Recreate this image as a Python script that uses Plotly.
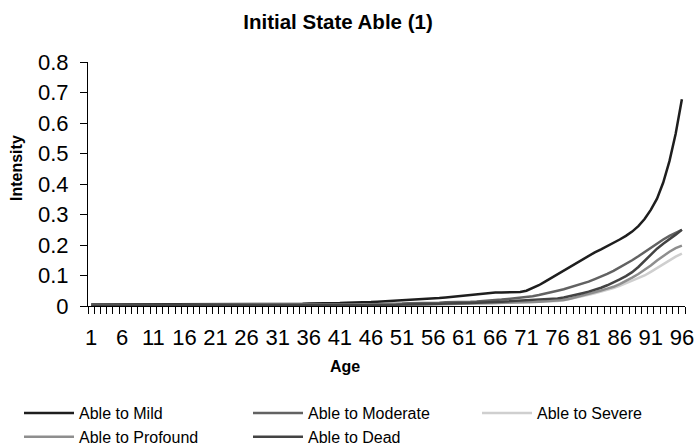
import plotly.graph_objects as go

ages = list(range(1, 97))

able_to_mild = [
    0.005, 0.005, 0.005, 0.005, 0.005, 0.005, 0.005, 0.005, 0.005, 0.005,
    0.005, 0.005, 0.005, 0.005, 0.005, 0.006, 0.006, 0.006, 0.006, 0.006,
    0.006, 0.006, 0.006, 0.006, 0.006, 0.007, 0.007, 0.007, 0.007, 0.007,
    0.007, 0.007, 0.007, 0.007, 0.007, 0.008, 0.008, 0.009, 0.009, 0.010,
    0.010, 0.011, 0.011, 0.012, 0.012, 0.013, 0.014, 0.015, 0.016, 0.017,
    0.018, 0.019, 0.020, 0.021, 0.022, 0.024, 0.026, 0.028, 0.030, 0.033,
    0.035, 0.038, 0.040, 0.042, 0.043, 0.044, 0.044, 0.044, 0.045, 0.046,
    0.050, 0.058, 0.068, 0.080, 0.092, 0.105, 0.118, 0.130, 0.142, 0.154,
    0.165, 0.176, 0.186, 0.196, 0.206, 0.218, 0.230, 0.244, 0.262, 0.285,
    0.315, 0.352, 0.405, 0.475, 0.565, 0.678,
]

able_to_moderate = [
    0.003, 0.003, 0.003, 0.003, 0.003, 0.003, 0.003, 0.003, 0.003, 0.003,
    0.003, 0.003, 0.003, 0.003, 0.003, 0.003, 0.003, 0.003, 0.003, 0.003,
    0.004, 0.004, 0.004, 0.004, 0.004, 0.004, 0.004, 0.004, 0.004, 0.004,
    0.004, 0.004, 0.004, 0.004, 0.004, 0.005, 0.005, 0.005, 0.005, 0.005,
    0.005, 0.005, 0.005, 0.005, 0.005, 0.006, 0.006, 0.007, 0.007, 0.008,
    0.008, 0.009, 0.009, 0.010, 0.010, 0.011, 0.011, 0.012, 0.012, 0.013,
    0.013, 0.014, 0.015, 0.016, 0.017, 0.019, 0.021, 0.023, 0.025, 0.027,
    0.029, 0.032, 0.036, 0.040, 0.045, 0.050, 0.055, 0.061, 0.067, 0.073,
    0.080, 0.088, 0.096, 0.105, 0.115, 0.126, 0.138, 0.150, 0.163, 0.177,
    0.192, 0.206, 0.218, 0.230, 0.240, 0.250,
]

able_to_severe = [
    0.002, 0.002, 0.002, 0.002, 0.002, 0.002, 0.002, 0.002, 0.002, 0.002,
    0.002, 0.002, 0.002, 0.002, 0.002, 0.002, 0.002, 0.002, 0.002, 0.002,
    0.002, 0.002, 0.002, 0.002, 0.002, 0.002, 0.002, 0.002, 0.002, 0.002,
    0.003, 0.003, 0.003, 0.003, 0.003, 0.003, 0.003, 0.003, 0.003, 0.003,
    0.003, 0.003, 0.003, 0.003, 0.003, 0.003, 0.003, 0.003, 0.003, 0.003,
    0.003, 0.004, 0.004, 0.004, 0.005, 0.005, 0.005, 0.006, 0.006, 0.007,
    0.007, 0.008, 0.008, 0.009, 0.009, 0.010, 0.010, 0.011, 0.011, 0.012,
    0.012, 0.013, 0.014, 0.014, 0.015, 0.016, 0.019, 0.023, 0.027, 0.032,
    0.037, 0.042, 0.047, 0.053, 0.059, 0.066, 0.074, 0.082, 0.091, 0.100,
    0.112, 0.125, 0.138, 0.150, 0.162, 0.172,
]

able_to_profound = [
    0.002, 0.002, 0.002, 0.002, 0.002, 0.002, 0.002, 0.002, 0.002, 0.002,
    0.002, 0.002, 0.002, 0.002, 0.002, 0.002, 0.002, 0.002, 0.002, 0.002,
    0.002, 0.002, 0.002, 0.002, 0.002, 0.002, 0.002, 0.002, 0.002, 0.002,
    0.003, 0.003, 0.003, 0.003, 0.003, 0.003, 0.003, 0.003, 0.003, 0.003,
    0.003, 0.003, 0.003, 0.003, 0.003, 0.003, 0.003, 0.003, 0.003, 0.003,
    0.004, 0.004, 0.004, 0.005, 0.005, 0.005, 0.006, 0.006, 0.007, 0.007,
    0.008, 0.008, 0.009, 0.009, 0.010, 0.010, 0.011, 0.011, 0.012, 0.012,
    0.013, 0.013, 0.014, 0.015, 0.016, 0.017, 0.020, 0.024, 0.029, 0.034,
    0.039, 0.045, 0.051, 0.057, 0.063, 0.072, 0.082, 0.093, 0.105, 0.118,
    0.133, 0.149, 0.165, 0.178, 0.190, 0.198,
]

able_to_dead = [
    0.002, 0.002, 0.002, 0.002, 0.002, 0.002, 0.002, 0.002, 0.002, 0.002,
    0.002, 0.002, 0.002, 0.002, 0.002, 0.002, 0.002, 0.002, 0.002, 0.002,
    0.003, 0.003, 0.003, 0.003, 0.003, 0.003, 0.003, 0.003, 0.003, 0.003,
    0.003, 0.003, 0.003, 0.003, 0.003, 0.003, 0.003, 0.003, 0.003, 0.003,
    0.004, 0.004, 0.004, 0.004, 0.004, 0.004, 0.004, 0.004, 0.004, 0.004,
    0.005, 0.005, 0.005, 0.006, 0.006, 0.007, 0.007, 0.008, 0.008, 0.009,
    0.009, 0.010, 0.011, 0.011, 0.012, 0.013, 0.014, 0.015, 0.016, 0.017,
    0.018, 0.019, 0.020, 0.022, 0.024, 0.025, 0.028, 0.032, 0.037, 0.042,
    0.047, 0.053, 0.060, 0.068, 0.077, 0.087, 0.098, 0.111, 0.128, 0.148,
    0.168, 0.188, 0.204, 0.218, 0.234, 0.250,
]

series_names = ["Able to Mild", "Able to Moderate", "Able to Severe",
                "Able to Profound", "Able to Dead"]
series_values = [able_to_mild, able_to_moderate, able_to_severe,
                 able_to_profound, able_to_dead]
series_colors = ["#1e1e1e", "#626262", "#cfcfcf", "#8e8e8e", "#434343"]

x_tick_labels = [str(a) for a in range(1, 97, 5)]
y_tick_values = [0, 0.1, 0.2, 0.3, 0.4, 0.5, 0.6, 0.7, 0.8]
y_tick_labels = ["0", "0.1", "0.2", "0.3", "0.4", "0.5", "0.6", "0.7", "0.8"]

fig = go.Figure()
for name, vals, col in zip(series_names, series_values, series_colors):
    fig.add_trace(go.Scatter(x=ages, y=vals, mode="lines", name=name,
                             line=dict(color=col, width=2.5)))

font_family = "Liberation Sans, Arial, sans-serif"

# plot area: x 88..685, y 62..306 (pixels)
L, R, T, B = 88, 12, 62, 139
PW, PH = 697 - L - R, 445 - T - B

fig.update_layout(
    width=697, height=445,
    paper_bgcolor="white", plot_bgcolor="white",
    margin=dict(l=L, r=R, t=T, b=B, autoexpand=False),
    font=dict(family=font_family, color="black"),
    title=dict(text="<b>Initial State Able (1)</b>", x=338 / 697, xanchor="center",
               xref="container", y=1 - 22 / 445, yanchor="middle", yref="container",
               font=dict(size=20.5, family=font_family, color="black")),
    showlegend=True,
    legend=dict(orientation="h", x=(19 - L) / PW, xanchor="left",
                y=-(396 - (445 - B)) / PH, yanchor="top",
                font=dict(size=16, family=font_family, color="black"),
                entrywidth=164, entrywidthmode="pixels", itemwidth=50,
                tracegroupgap=0, bgcolor="rgba(0,0,0,0)"),
    xaxis=dict(
        range=[0.5, 96.5], tickmode="array",
        tickvals=[int(t) for t in x_tick_labels], ticktext=x_tick_labels,
        ticks="", showgrid=False, zeroline=False,
        showline=True, linecolor="black", linewidth=1,
        tickfont=dict(size=22, family=font_family, color="black"),
        ticklabelstandoff=12,
        minor=dict(tickmode="array", tickvals=[a - 0.5 for a in range(1, 98)],
                   ticks="outside", ticklen=7, tickcolor="black", tickwidth=1,
                   showgrid=False),
    ),
    yaxis=dict(
        range=[0, 0.8], tickmode="array", tickvals=y_tick_values, ticktext=y_tick_labels,
        ticks="outside", ticklen=7, tickcolor="black", tickwidth=1,
        showgrid=False, zeroline=False, showline=True, linecolor="black", linewidth=1,
        tickfont=dict(size=22, family=font_family, color="black"),
        ticklabelstandoff=7,
    ),
    annotations=[
        dict(text="<b>Age</b>", xref="paper", yref="paper",
             x=(345 - L) / PW, y=-(366 - (445 - B)) / PH,
             xanchor="center", yanchor="middle", showarrow=False,
             font=dict(size=16, family=font_family, color="black")),
        dict(text="<b>Intensity</b>", xref="paper", yref="paper",
             x=(16 - L) / PW, y=((445 - B) - 168) / PH, textangle=-90,
             xanchor="center", yanchor="middle", showarrow=False,
             font=dict(size=16, family=font_family, color="black")),
    ],
)

fig.write_html("out.html",
               config={"displayModeBar": False},
               post_script="document.body.style.margin='0px'; document.body.style.padding='0px';")
